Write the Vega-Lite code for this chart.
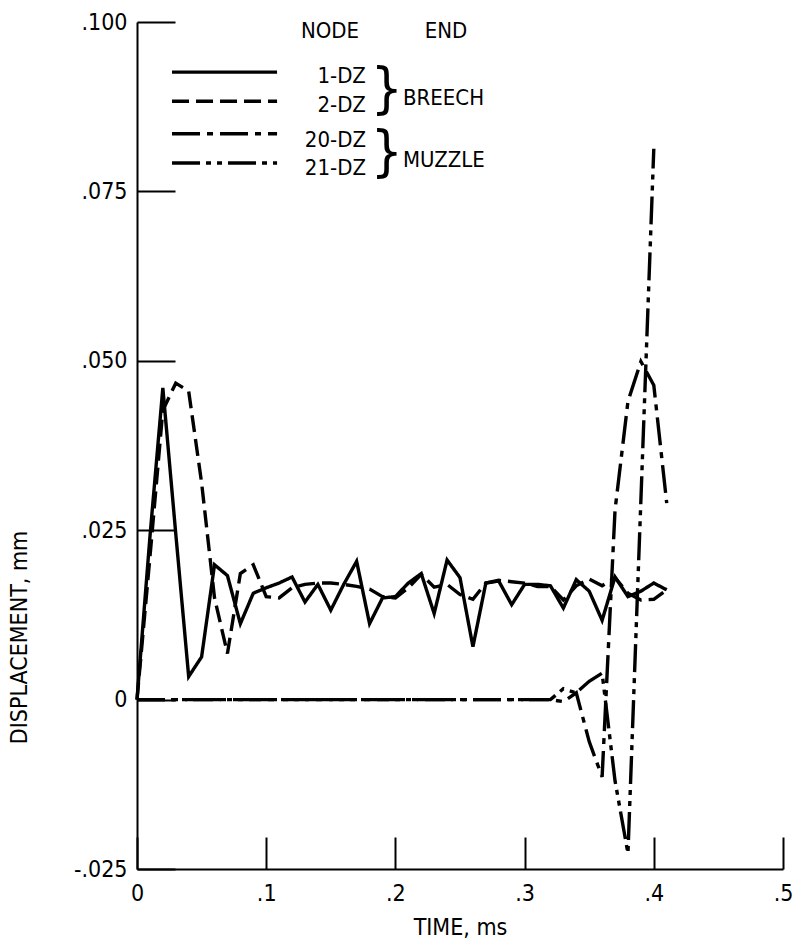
{
  "$schema": "https://vega.github.io/schema/vega-lite/v6.json",
  "width": 646,
  "height": 847,
  "autosize": {"type": "none"},
  "padding": {"left": 137, "top": 22, "right": 19, "bottom": 76},
  "background": "white",
  "config": {"view": {"stroke": null}, "font": "DejaVu Sans Condensed"},
  "datasets": {
    "anno": [{}],
    "series": [
      {"node":"1-DZ","t":0.00,"v":0},{"node":"1-DZ","t":0.01,"v":0.024},{"node":"1-DZ","t":0.02,"v":0.046},{"node":"1-DZ","t":0.03,"v":0.0245},{"node":"1-DZ","t":0.04,"v":0.0034},{"node":"1-DZ","t":0.05,"v":0.0063},{"node":"1-DZ","t":0.06,"v":0.0199},{"node":"1-DZ","t":0.07,"v":0.0183},{"node":"1-DZ","t":0.08,"v":0.0112},{"node":"1-DZ","t":0.09,"v":0.0157},{"node":"1-DZ","t":0.10,"v":0.0165},{"node":"1-DZ","t":0.11,"v":0.0172},{"node":"1-DZ","t":0.12,"v":0.0181},{"node":"1-DZ","t":0.13,"v":0.0144},{"node":"1-DZ","t":0.14,"v":0.0170},{"node":"1-DZ","t":0.15,"v":0.0132},{"node":"1-DZ","t":0.16,"v":0.0170},{"node":"1-DZ","t":0.17,"v":0.0204},{"node":"1-DZ","t":0.18,"v":0.0112},{"node":"1-DZ","t":0.19,"v":0.0150},{"node":"1-DZ","t":0.20,"v":0.0152},{"node":"1-DZ","t":0.21,"v":0.0172},{"node":"1-DZ","t":0.22,"v":0.0186},{"node":"1-DZ","t":0.23,"v":0.0127},{"node":"1-DZ","t":0.24,"v":0.0206},{"node":"1-DZ","t":0.25,"v":0.0180},{"node":"1-DZ","t":0.26,"v":0.0078},{"node":"1-DZ","t":0.27,"v":0.0172},{"node":"1-DZ","t":0.28,"v":0.0175},{"node":"1-DZ","t":0.29,"v":0.0140},{"node":"1-DZ","t":0.30,"v":0.0170},{"node":"1-DZ","t":0.31,"v":0.0170},{"node":"1-DZ","t":0.32,"v":0.0168},{"node":"1-DZ","t":0.33,"v":0.0135},{"node":"1-DZ","t":0.34,"v":0.0177},{"node":"1-DZ","t":0.35,"v":0.0160},{"node":"1-DZ","t":0.36,"v":0.0117},{"node":"1-DZ","t":0.37,"v":0.0181},{"node":"1-DZ","t":0.38,"v":0.0152},{"node":"1-DZ","t":0.39,"v":0.0160},{"node":"1-DZ","t":0.40,"v":0.0172},{"node":"1-DZ","t":0.41,"v":0.0162},
      {"node":"2-DZ","t":0.00,"v":0},{"node":"2-DZ","t":0.01,"v":0.021},{"node":"2-DZ","t":0.02,"v":0.0427},{"node":"2-DZ","t":0.03,"v":0.0467},{"node":"2-DZ","t":0.04,"v":0.0455},{"node":"2-DZ","t":0.05,"v":0.032},{"node":"2-DZ","t":0.06,"v":0.015},{"node":"2-DZ","t":0.07,"v":0.0068},{"node":"2-DZ","t":0.08,"v":0.0186},{"node":"2-DZ","t":0.09,"v":0.0199},{"node":"2-DZ","t":0.10,"v":0.0152},{"node":"2-DZ","t":0.11,"v":0.015},{"node":"2-DZ","t":0.12,"v":0.0165},{"node":"2-DZ","t":0.13,"v":0.017},{"node":"2-DZ","t":0.14,"v":0.0172},{"node":"2-DZ","t":0.15,"v":0.0172},{"node":"2-DZ","t":0.16,"v":0.017},{"node":"2-DZ","t":0.17,"v":0.0167},{"node":"2-DZ","t":0.18,"v":0.0163},{"node":"2-DZ","t":0.19,"v":0.0152},{"node":"2-DZ","t":0.20,"v":0.015},{"node":"2-DZ","t":0.21,"v":0.0165},{"node":"2-DZ","t":0.22,"v":0.0185},{"node":"2-DZ","t":0.23,"v":0.0166},{"node":"2-DZ","t":0.24,"v":0.017},{"node":"2-DZ","t":0.25,"v":0.0155},{"node":"2-DZ","t":0.26,"v":0.0148},{"node":"2-DZ","t":0.27,"v":0.0172},{"node":"2-DZ","t":0.28,"v":0.0176},{"node":"2-DZ","t":0.29,"v":0.0174},{"node":"2-DZ","t":0.30,"v":0.0172},{"node":"2-DZ","t":0.31,"v":0.0167},{"node":"2-DZ","t":0.32,"v":0.0167},{"node":"2-DZ","t":0.33,"v":0.0147},{"node":"2-DZ","t":0.34,"v":0.0168},{"node":"2-DZ","t":0.35,"v":0.0178},{"node":"2-DZ","t":0.36,"v":0.0168},{"node":"2-DZ","t":0.37,"v":0.018},{"node":"2-DZ","t":0.38,"v":0.0157},{"node":"2-DZ","t":0.39,"v":0.0147},{"node":"2-DZ","t":0.40,"v":0.0148},{"node":"2-DZ","t":0.41,"v":0.0162},
      {"node":"20-DZ","t":0.00,"v":0},{"node":"20-DZ","t":0.01,"v":0},{"node":"20-DZ","t":0.02,"v":0},{"node":"20-DZ","t":0.03,"v":0},{"node":"20-DZ","t":0.04,"v":0},{"node":"20-DZ","t":0.05,"v":0},{"node":"20-DZ","t":0.06,"v":0},{"node":"20-DZ","t":0.07,"v":0},{"node":"20-DZ","t":0.08,"v":0},{"node":"20-DZ","t":0.09,"v":0},{"node":"20-DZ","t":0.10,"v":0},{"node":"20-DZ","t":0.11,"v":0},{"node":"20-DZ","t":0.12,"v":0},{"node":"20-DZ","t":0.13,"v":0},{"node":"20-DZ","t":0.14,"v":0},{"node":"20-DZ","t":0.15,"v":0},{"node":"20-DZ","t":0.16,"v":0},{"node":"20-DZ","t":0.17,"v":0},{"node":"20-DZ","t":0.18,"v":0},{"node":"20-DZ","t":0.19,"v":0},{"node":"20-DZ","t":0.20,"v":0},{"node":"20-DZ","t":0.21,"v":0},{"node":"20-DZ","t":0.22,"v":0},{"node":"20-DZ","t":0.23,"v":0},{"node":"20-DZ","t":0.24,"v":0},{"node":"20-DZ","t":0.25,"v":0},{"node":"20-DZ","t":0.26,"v":0},{"node":"20-DZ","t":0.27,"v":0},{"node":"20-DZ","t":0.28,"v":0},{"node":"20-DZ","t":0.29,"v":0},{"node":"20-DZ","t":0.30,"v":0},{"node":"20-DZ","t":0.31,"v":0},{"node":"20-DZ","t":0.32,"v":0},{"node":"20-DZ","t":0.33,"v":-0.0003},{"node":"20-DZ","t":0.34,"v":0.001},{"node":"20-DZ","t":0.35,"v":-0.0062},{"node":"20-DZ","t":0.36,"v":-0.0114},{"node":"20-DZ","t":0.37,"v":0.028},{"node":"20-DZ","t":0.38,"v":0.044},{"node":"20-DZ","t":0.39,"v":0.0499},{"node":"20-DZ","t":0.40,"v":0.0464},{"node":"20-DZ","t":0.41,"v":0.029},
      {"node":"21-DZ","t":0.00,"v":0},{"node":"21-DZ","t":0.01,"v":0},{"node":"21-DZ","t":0.02,"v":0},{"node":"21-DZ","t":0.03,"v":0},{"node":"21-DZ","t":0.04,"v":0},{"node":"21-DZ","t":0.05,"v":0},{"node":"21-DZ","t":0.06,"v":0},{"node":"21-DZ","t":0.07,"v":0},{"node":"21-DZ","t":0.08,"v":0},{"node":"21-DZ","t":0.09,"v":0},{"node":"21-DZ","t":0.10,"v":0},{"node":"21-DZ","t":0.11,"v":0},{"node":"21-DZ","t":0.12,"v":0},{"node":"21-DZ","t":0.13,"v":0},{"node":"21-DZ","t":0.14,"v":0},{"node":"21-DZ","t":0.15,"v":0},{"node":"21-DZ","t":0.16,"v":0},{"node":"21-DZ","t":0.17,"v":0},{"node":"21-DZ","t":0.18,"v":0},{"node":"21-DZ","t":0.19,"v":0},{"node":"21-DZ","t":0.20,"v":0},{"node":"21-DZ","t":0.21,"v":0},{"node":"21-DZ","t":0.22,"v":0},{"node":"21-DZ","t":0.23,"v":0},{"node":"21-DZ","t":0.24,"v":0},{"node":"21-DZ","t":0.25,"v":0},{"node":"21-DZ","t":0.26,"v":0},{"node":"21-DZ","t":0.27,"v":0},{"node":"21-DZ","t":0.28,"v":0},{"node":"21-DZ","t":0.29,"v":0},{"node":"21-DZ","t":0.30,"v":0},{"node":"21-DZ","t":0.31,"v":0},{"node":"21-DZ","t":0.32,"v":0},{"node":"21-DZ","t":0.33,"v":0.0016},{"node":"21-DZ","t":0.34,"v":0.001},{"node":"21-DZ","t":0.35,"v":0.0027},{"node":"21-DZ","t":0.36,"v":0.0039},{"node":"21-DZ","t":0.37,"v":-0.012},{"node":"21-DZ","t":0.38,"v":-0.0227},{"node":"21-DZ","t":0.39,"v":0.0294},{"node":"21-DZ","t":0.40,"v":0.0813}
    ]
  },
  "layer": [
    {
      "data": {"name": "series"},
      "mark": {"type": "line", "strokeWidth": 3.4, "color": "black"},
      "encoding": {
        "x": {
          "field": "t", "type": "quantitative",
          "scale": {"domain": [0, 0.5], "nice": false, "zero": false},
          "axis": {
            "title": "TIME, ms",
            "values": [0, 0.1, 0.2, 0.3, 0.4, 0.5],
            "labelExpr": "datum.value == 0 ? '0' : replace(format(datum.value, '.1f'), '0.', '.')",
            "labelFlush": false,
            "grid": false,
            "tickSize": -32, "tickWidth": 2, "tickColor": "black",
            "domainColor": "black", "domainWidth": 2,
            "labelColor": "black", "labelFontSize": 23, "labelPadding": 45,
            "labelFont": "DejaVu Sans Condensed",
            "titleFont": "DejaVu Sans Condensed", "titleFontSize": 23, "titleFontWeight": "normal", "titleColor": "black",
            "titleY": 65, "titleBaseline": "alphabetic"
          }
        },
        "y": {
          "field": "v", "type": "quantitative",
          "scale": {"domain": [-0.025, 0.1], "nice": false, "zero": false},
          "axis": {
            "title": "DISPLACEMENT, mm",
            "values": [-0.025, 0, 0.025, 0.05, 0.075, 0.1],
            "labelExpr": "datum.value == 0 ? '0' : replace(replace(format(datum.value, '.3f'), '0.', '.'), '\u2212', '-')",
            "labelFlush": false,
            "grid": false,
            "tickSize": -38, "tickWidth": 2, "tickColor": "black",
            "domainColor": "black", "domainWidth": 2,
            "labelColor": "black", "labelFontSize": 23, "labelPadding": 48,
            "labelFont": "DejaVu Sans Condensed",
            "titleFont": "DejaVu Sans Condensed", "titleFontSize": 23, "titleFontWeight": "normal", "titleColor": "black",
            "titleX": -118, "titleY": 615, "titleAlign": "center", "titleBaseline": "middle", "titleAngle": -90
          }
        },
        "strokeDash": {
          "field": "node", "type": "nominal",
          "scale": {"domain": ["1-DZ", "2-DZ", "20-DZ", "21-DZ"], "range": [[1, 0], [17, 7], [28, 7, 6, 7], [28, 6, 5, 6, 5, 6]]},
          "legend": null
        }
      }
    },
    {"data": {"name": "anno"}, "mark": {"type": "rule", "strokeWidth": 3.4, "color": "black"}, "encoding": {"x": {"datum": 0.0271}, "x2": {"datum": 0.1084}, "y": {"datum": 0.0926}}},
    {"data": {"name": "anno"}, "mark": {"type": "rule", "strokeWidth": 3.4, "color": "black", "strokeDash": [17, 7]}, "encoding": {"x": {"datum": 0.0271}, "x2": {"datum": 0.1084}, "y": {"datum": 0.0883}}},
    {"data": {"name": "anno"}, "mark": {"type": "rule", "strokeWidth": 3.4, "color": "black", "strokeDash": [28, 7, 6, 7]}, "encoding": {"x": {"datum": 0.0271}, "x2": {"datum": 0.1084}, "y": {"datum": 0.0835}}},
    {"data": {"name": "anno"}, "mark": {"type": "rule", "strokeWidth": 3.4, "color": "black", "strokeDash": [28, 6, 5, 6, 5, 6]}, "encoding": {"x": {"datum": 0.0271}, "x2": {"datum": 0.1084}, "y": {"datum": 0.0792}}},
    {"data": {"name": "anno"}, "mark": {"type": "text", "align": "center", "baseline": "alphabetic", "fontSize": 22, "color": "black"}, "encoding": {"x": {"datum": 0.1494}, "y": {"datum": 0.0976}, "text": {"value": "NODE"}}},
    {"data": {"name": "anno"}, "mark": {"type": "text", "align": "center", "baseline": "alphabetic", "fontSize": 22, "color": "black"}, "encoding": {"x": {"datum": 0.2392}, "y": {"datum": 0.0976}, "text": {"value": "END"}}},
    {"data": {"name": "anno"}, "mark": {"type": "text", "align": "right", "baseline": "alphabetic", "fontSize": 22, "color": "black"}, "encoding": {"x": {"datum": 0.1772}, "y": {"datum": 0.0910}, "text": {"value": "1-DZ"}}},
    {"data": {"name": "anno"}, "mark": {"type": "text", "align": "right", "baseline": "alphabetic", "fontSize": 22, "color": "black"}, "encoding": {"x": {"datum": 0.1772}, "y": {"datum": 0.0867}, "text": {"value": "2-DZ"}}},
    {"data": {"name": "anno"}, "mark": {"type": "text", "align": "right", "baseline": "alphabetic", "fontSize": 22, "color": "black"}, "encoding": {"x": {"datum": 0.1772}, "y": {"datum": 0.0816}, "text": {"value": "20-DZ"}}},
    {"data": {"name": "anno"}, "mark": {"type": "text", "align": "right", "baseline": "alphabetic", "fontSize": 22, "color": "black"}, "encoding": {"x": {"datum": 0.1772}, "y": {"datum": 0.0774}, "text": {"value": "21-DZ"}}},
    {"data": {"name": "anno"}, "mark": {"type": "text", "align": "left", "baseline": "middle", "fontSize": 56, "fontWeight": 200, "color": "black"}, "encoding": {"x": {"datum": 0.181}, "y": {"datum": 0.0899}, "text": {"value": "}"}}},
    {"data": {"name": "anno"}, "mark": {"type": "text", "align": "left", "baseline": "middle", "fontSize": 56, "fontWeight": 200, "color": "black"}, "encoding": {"x": {"datum": 0.181}, "y": {"datum": 0.0806}, "text": {"value": "}"}}},
    {"data": {"name": "anno"}, "mark": {"type": "text", "align": "left", "baseline": "alphabetic", "fontSize": 22, "color": "black"}, "encoding": {"x": {"datum": 0.2059}, "y": {"datum": 0.0877}, "text": {"value": "BREECH"}}},
    {"data": {"name": "anno"}, "mark": {"type": "text", "align": "left", "baseline": "alphabetic", "fontSize": 22, "color": "black"}, "encoding": {"x": {"datum": 0.2059}, "y": {"datum": 0.0786}, "text": {"value": "MUZZLE"}}}
  ]
}
